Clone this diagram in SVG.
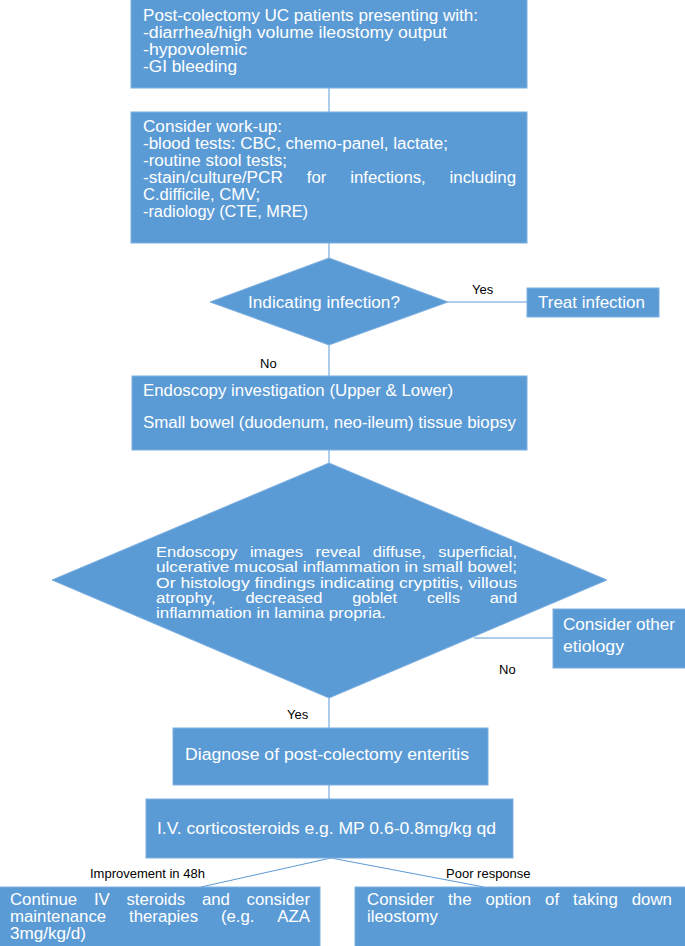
<svg xmlns="http://www.w3.org/2000/svg" width="685" height="946" viewBox="0 0 685 946">
<style>
.box{fill:#5B9BD5;stroke:#7DAFE0;stroke-width:1}
.t{font-family:"Liberation Sans","Noto Sans",sans-serif;font-size:16px;fill:#ffffff}
.n{font-family:"Liberation Sans","Noto Sans",sans-serif;font-size:15.5px;fill:#ffffff}
.lbl{font-family:"Liberation Sans","Noto Sans",sans-serif;font-size:13px;fill:#000000}
.c{stroke:#5B9BD5;stroke-width:1;fill:none}
</style>
<rect width="685" height="946" fill="#ffffff"/>
<g id="connectors">
<line class="c" x1="329" y1="88" x2="329" y2="112"/>
<line class="c" x1="329" y1="243" x2="329" y2="258"/>
<line class="c" x1="448" y1="302" x2="527" y2="302"/>
<line class="c" x1="329" y1="345" x2="329" y2="376"/>
<line class="c" x1="329" y1="450" x2="329" y2="463"/>
<line class="c" x1="474" y1="638" x2="553" y2="638"/>
<line class="c" x1="329" y1="698" x2="329" y2="728"/>
<line class="c" x1="329" y1="785" x2="329" y2="799"/>
<line class="c" x1="331" y1="858" x2="201" y2="887"/>
<line class="c" x1="331" y1="858" x2="484" y2="887"/>
<text class="lbl" x="472" y="294">Yes</text>
<text class="lbl" x="260" y="368">No</text>
<text class="lbl" x="499" y="674">No</text>
<text class="lbl" x="287" y="719">Yes</text>
<text class="lbl" x="90" y="878">Improvement in 48h</text>
<text class="lbl" x="446" y="878">Poor response</text>
</g>
<g id="n1">
<rect class="box" x="131" y="-1" width="396" height="89"/>
<text class="t" x="143" y="21" textLength="335" lengthAdjust="spacingAndGlyphs">Post-colectomy UC patients presenting with:</text>
<text class="t" x="143" y="38" textLength="304" lengthAdjust="spacingAndGlyphs">-diarrhea/high volume ileostomy output</text>
<text class="t" x="143" y="55" textLength="104" lengthAdjust="spacingAndGlyphs">-hypovolemic</text>
<text class="t" x="143" y="72" textLength="94" lengthAdjust="spacingAndGlyphs">-GI bleeding</text>
</g>
<g id="n2">
<rect class="box" x="131" y="112" width="396" height="131"/>
<text class="t" x="143" y="132" textLength="139" lengthAdjust="spacingAndGlyphs">Consider work-up:</text>
<text class="t" x="143" y="149" textLength="305" lengthAdjust="spacingAndGlyphs">-blood tests: CBC, chemo-panel, lactate;</text>
<text class="t" x="143" y="166" textLength="144" lengthAdjust="spacingAndGlyphs">-routine stool tests;</text>
<text class="t" x="143" y="183" textLength="140" lengthAdjust="spacingAndGlyphs">-stain/culture/PCR</text>
<text class="t" x="306.8" y="183" textLength="19.6" lengthAdjust="spacingAndGlyphs">for</text>
<text class="t" x="350.2" y="183" textLength="75.6" lengthAdjust="spacingAndGlyphs">infections,</text>
<text class="t" x="449.6" y="183" textLength="66.4" lengthAdjust="spacingAndGlyphs">including</text>
<text class="t" x="143" y="200" textLength="117" lengthAdjust="spacingAndGlyphs">C.difficile, CMV;</text>
<text class="t" x="143" y="217" textLength="165" lengthAdjust="spacingAndGlyphs">-radiology (CTE, MRE)</text>
</g>
<g id="d1">
<polygon class="box" points="329,258 448,302 329,345 210,302"/>
<text class="t" x="248" y="308" textLength="152" lengthAdjust="spacingAndGlyphs">Indicating infection?</text>
</g>
<g id="n_treat">
<rect class="box" x="527" y="288" width="132" height="29"/>
<text class="t" x="538" y="308" textLength="107" lengthAdjust="spacingAndGlyphs">Treat infection</text>
</g>
<g id="n3">
<rect class="box" x="132" y="376" width="395" height="74"/>
<text class="t" x="143" y="396" textLength="310" lengthAdjust="spacingAndGlyphs">Endoscopy investigation (Upper &amp; Lower)</text>
<text class="t" x="143" y="428" textLength="373" lengthAdjust="spacingAndGlyphs">Small bowel (duodenum, neo-ileum) tissue biopsy</text>
</g>
<g id="d2">
<polygon class="box" points="329,463 607,580 329,698 52,580"/>
<text class="n" x="156" y="557" textLength="81.5" lengthAdjust="spacingAndGlyphs">Endoscopy</text>
<text class="n" x="249.9" y="557" textLength="53.1" lengthAdjust="spacingAndGlyphs">images</text>
<text class="n" x="315.4" y="557" textLength="44.9" lengthAdjust="spacingAndGlyphs">reveal</text>
<text class="n" x="372.7" y="557" textLength="53.1" lengthAdjust="spacingAndGlyphs">diffuse,</text>
<text class="n" x="438.2" y="557" textLength="78.8" lengthAdjust="spacingAndGlyphs">superficial,</text>
<text class="n" x="156" y="572.3" textLength="361" lengthAdjust="spacingAndGlyphs">ulcerative mucosal inflammation in small bowel;</text>
<text class="n" x="156" y="587.6" textLength="361" lengthAdjust="spacingAndGlyphs">Or histology findings indicating cryptitis, villous</text>
<text class="n" x="156" y="602.9" textLength="59.6" lengthAdjust="spacingAndGlyphs">atrophy,</text>
<text class="n" x="245.4" y="602.9" textLength="77" lengthAdjust="spacingAndGlyphs">decreased</text>
<text class="n" x="352.2" y="602.9" textLength="44.9" lengthAdjust="spacingAndGlyphs">goblet</text>
<text class="n" x="426.9" y="602.9" textLength="33" lengthAdjust="spacingAndGlyphs">cells</text>
<text class="n" x="489.7" y="602.9" textLength="27.5" lengthAdjust="spacingAndGlyphs">and</text>
<text class="n" x="156" y="618.2" textLength="230" lengthAdjust="spacingAndGlyphs">inflammation in lamina propria.</text>
</g>
<g id="n_other">
<rect class="box" x="553" y="609" width="133" height="59"/>
<text class="t" x="563" y="630" textLength="112" lengthAdjust="spacingAndGlyphs">Consider other</text>
<text class="t" x="563" y="652" textLength="61" lengthAdjust="spacingAndGlyphs">etiology</text>
</g>
<g id="n4">
<rect class="box" x="173" y="728" width="315" height="57"/>
<text class="t" x="185" y="760" textLength="284" lengthAdjust="spacingAndGlyphs">Diagnose of post-colectomy enteritis</text>
</g>
<g id="n5">
<rect class="box" x="146" y="799" width="367" height="59"/>
<text class="t" x="157" y="834" textLength="339" lengthAdjust="spacingAndGlyphs">I.V. corticosteroids e.g. MP 0.6-0.8mg/kg qd</text>
</g>
<g id="n6">
<rect class="box" x="-1" y="887" width="321" height="60"/>
<text class="t" x="10" y="905" textLength="67.2" lengthAdjust="spacingAndGlyphs">Continue</text>
<text class="t" x="93.9" y="905" textLength="15.9" lengthAdjust="spacingAndGlyphs">IV</text>
<text class="t" x="126.4" y="905" textLength="58.8" lengthAdjust="spacingAndGlyphs">steroids</text>
<text class="t" x="201.9" y="905" textLength="28" lengthAdjust="spacingAndGlyphs">and</text>
<text class="t" x="246.5" y="905" textLength="63.5" lengthAdjust="spacingAndGlyphs">consider</text>
<text class="t" x="10" y="922" textLength="96.2" lengthAdjust="spacingAndGlyphs">maintenance</text>
<text class="t" x="129" y="922" textLength="69.1" lengthAdjust="spacingAndGlyphs">therapies</text>
<text class="t" x="220.9" y="922" textLength="33.6" lengthAdjust="spacingAndGlyphs">(e.g.</text>
<text class="t" x="277.3" y="922" textLength="32.7" lengthAdjust="spacingAndGlyphs">AZA</text>
<text class="t" x="10" y="939" textLength="76" lengthAdjust="spacingAndGlyphs">3mg/kg/d)</text>
</g>
<g id="n7">
<rect class="box" x="355" y="887" width="331" height="60"/>
<text class="t" x="367" y="905" textLength="67.2" lengthAdjust="spacingAndGlyphs">Consider</text>
<text class="t" x="448.1" y="905" textLength="23.4" lengthAdjust="spacingAndGlyphs">the</text>
<text class="t" x="485.4" y="905" textLength="45.8" lengthAdjust="spacingAndGlyphs">option</text>
<text class="t" x="545.1" y="905" textLength="14" lengthAdjust="spacingAndGlyphs">of</text>
<text class="t" x="573" y="905" textLength="44.8" lengthAdjust="spacingAndGlyphs">taking</text>
<text class="t" x="631.7" y="905" textLength="40.3" lengthAdjust="spacingAndGlyphs">down</text>
<text class="t" x="367" y="922" textLength="71" lengthAdjust="spacingAndGlyphs">ileostomy</text>
</g>
</svg>
